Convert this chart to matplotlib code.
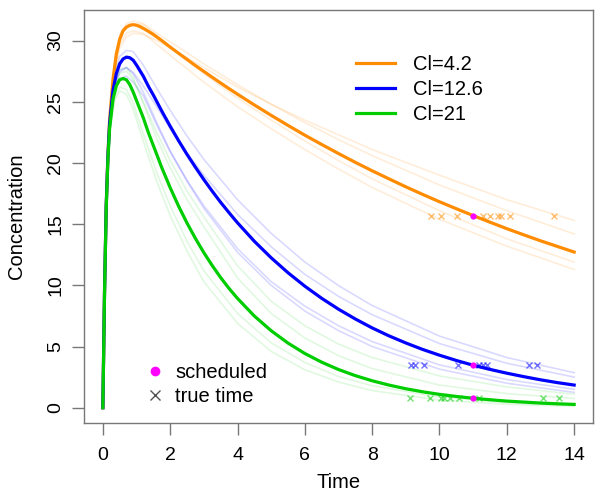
import matplotlib
matplotlib.use("Agg")
import matplotlib.pyplot as plt
from matplotlib.lines import Line2D

plt.rcParams['font.family'] = ['Liberation Sans', 'DejaVu Sans']

# time grid for the three main curves
time = [0, 0.05, 0.1, 0.15, 0.2, 0.3, 0.4, 0.5, 0.6, 0.7, 0.8, 0.9, 1.0,
        1.1, 1.2, 1.35, 1.5, 1.75, 2, 2.25, 2.5, 2.75, 3, 3.25, 3.5, 3.75, 4,
        4.5, 5, 5.5, 6, 6.5, 7, 7.5, 8, 8.5, 9, 9.5, 10, 10.5, 11, 11.5, 12, 12.5, 13, 13.5, 14]

conc_cl42 = [0, 9.5, 16.5, 20.6, 23.5, 26.8, 28.9, 30.1, 30.8, 31.1, 31.25, 31.3, 31.25,
             31.15, 31.0, 30.76, 30.5, 30.0, 29.47, 28.96, 28.46, 27.96, 27.48, 27.0, 26.53, 26.07, 25.62,
             24.74, 23.89, 23.07, 22.27, 21.51, 20.77, 20.05, 19.36, 18.7, 18.05, 17.43, 16.83, 16.26,
             15.7, 15.16, 14.63, 14.13, 13.64, 13.18, 12.72]
conc_cl126 = [0, 9.5, 16.5, 20.5, 23.2, 25.9, 27.3, 28.1, 28.5, 28.65, 28.6, 28.4, 28.0,
              27.55, 27.1, 26.28, 25.55, 24.24, 23.0, 21.82, 20.7, 19.65, 18.64, 17.69, 16.78, 15.93, 15.11,
              13.6, 12.25, 11.03, 9.93, 8.94, 8.05, 7.25, 6.52, 5.87, 5.29, 4.76, 4.29, 3.86,
              3.47, 3.13, 2.82, 2.54, 2.28, 2.05, 1.85]
conc_cl21 = [0, 9.4, 16.3, 20.3, 22.8, 25.2, 26.3, 26.8, 26.9, 26.8, 26.4, 25.8, 25.1,
             24.4, 23.7, 22.5, 21.42, 19.62, 17.98, 16.47, 15.09, 13.83, 12.67, 11.61, 10.63, 9.74, 8.93,
             7.49, 6.29, 5.28, 4.43, 3.72, 3.12, 2.62, 2.2, 1.85, 1.55, 1.3, 1.09, 0.92,
             0.77, 0.65, 0.54, 0.46, 0.38, 0.32, 0.27]

# coarser time grid for the faint individual curves
time_ind = [0, 0.1, 0.2, 0.35, 0.5, 0.7, 0.9, 1.2, 1.6, 2, 2.5, 3, 4, 5, 6, 7, 8, 10, 12, 14]

ind_cl42 = [
    [0, 16.0, 23.0, 27.3, 29.4, 30.3, 30.6, 30.5, 30.0, 29.4, 28.6, 27.8, 26.2, 24.8, 23.5, 22.3, 21.1, 19.0, 17.0, 15.3],
    [0, 16.6, 23.7, 28.2, 30.5, 31.4, 31.6, 31.4, 30.6, 29.9, 29.0, 28.1, 26.4, 24.8, 23.3, 21.9, 20.6, 18.2, 16.1, 14.2],
    [0, 16.4, 23.5, 28.0, 30.3, 31.2, 31.4, 31.3, 30.4, 29.5, 28.4, 27.3, 25.3, 23.5, 21.8, 20.2, 18.7, 16.1, 13.8, 11.9],
    [0, 16.2, 23.2, 27.5, 29.7, 30.6, 30.8, 30.6, 29.7, 28.8, 27.7, 26.6, 24.6, 22.8, 21.1, 19.5, 18.0, 15.4, 13.2, 11.3],
]
ind_cl126 = [
    [0, 16.6, 23.4, 27.2, 28.7, 29.2, 29.1, 28.0, 26.1, 24.3, 22.2, 20.3, 17.0, 14.25, 11.9, 9.98, 8.35, 5.85, 4.1, 2.86],
    [0, 16.3, 22.8, 26.0, 27.4, 27.8, 27.4, 26.3, 24.6, 22.8, 20.8, 19.0, 15.8, 13.15, 10.9, 9.1, 7.6, 5.24, 3.63, 2.5],
    [0, 16.2, 22.7, 25.8, 26.9, 27.1, 26.6, 25.5, 23.1, 20.9, 18.6, 16.5, 13.0, 10.3, 8.3, 6.7, 5.4, 3.5, 2.3, 1.5],
    [0, 16.5, 23.0, 26.4, 27.6, 27.8, 27.3, 25.8, 23.3, 21.0, 18.5, 16.3, 12.7, 10.0, 7.9, 6.3, 5.0, 3.15, 2.0, 1.25],
]
ind_cl21 = [
    [0, 16.4, 23.0, 26.2, 27.3, 27.5, 26.8, 25.0, 22.5, 20.2, 17.7, 15.6, 11.6, 8.7, 6.7, 5.2, 4.1, 2.6, 1.7, 1.1],
    [0, 16.5, 23.2, 26.5, 27.6, 27.8, 27.0, 24.9, 22.0, 19.6, 17.0, 14.8, 10.6, 7.7, 5.7, 4.25, 3.2, 1.85, 1.15, 0.75],
    [0, 16.2, 22.6, 25.4, 26.2, 26.0, 24.9, 22.4, 19.2, 16.5, 13.6, 11.2, 7.7, 5.3, 3.7, 2.55, 1.8, 0.86, 0.42, 0.2],
    [0, 16.1, 22.4, 25.1, 25.9, 25.6, 24.4, 21.8, 18.5, 15.7, 12.8, 10.3, 6.9, 4.6, 3.1, 2.1, 1.4, 0.62, 0.28, 0.12],
]

# scheduled sampling time and the actual ("true") sampling times
sched_time = 11
sched_conc = [15.7, 3.5, 0.77]
true_cl42 = [9.74, 10.04, 10.53, 11.29, 11.50, 11.74, 11.84, 12.09, 13.39]
true_cl126 = [9.16, 9.26, 9.55, 10.56, 11.18, 11.30, 11.41, 12.66, 12.89]
true_cl21 = [9.11, 9.72, 10.04, 10.14, 10.32, 10.59, 11.16, 13.07, 13.56]

labels = ['Cl=4.2', 'Cl=12.6', 'Cl=21']
colors = ['#FF8C00', '#0000FF', '#00CD00']

fig = plt.figure(figsize=(6.02, 5), dpi=100)
ax = fig.add_axes([84 / 602, 77 / 500, 509 / 602, 413 / 500])

mains = [conc_cl42, conc_cl126, conc_cl21]
inds = [ind_cl42, ind_cl126, ind_cl21]
trues = [true_cl42, true_cl126, true_cl21]
thin_alpha = [0.15, 0.15, 0.12]

# faint individual curves first, then the typical curve on top
for k in range(3):
    for curve in inds[k]:
        ax.plot(time_ind, curve, color=colors[k], lw=1.2, alpha=thin_alpha[k], zorder=1)
for k in range(3):
    ax.plot(time, mains[k], color=colors[k], lw=2.3, zorder=3)
    ax.plot(trues[k], [sched_conc[k]] * len(trues[k]), 'x', color=colors[k],
            alpha=0.55, ms=4, mew=1, zorder=4)
    ax.plot(sched_time, sched_conc[k], 'o', color='magenta', ms=4.5, mec='none', zorder=5)

ax.set_xlim(-0.56, 14.56)
ax.set_ylim(-1.25, 32.5)
ax.set_xticks(range(0, 15, 2))
ax.set_yticks(range(0, 31, 5))

# R-like axes
for s in ax.spines.values():
    s.set_color('#777777')
    s.set_linewidth(1)
ax.tick_params(axis='both', length=8.4, width=1, color='#777777', labelsize=14, labelcolor='black')
ax.tick_params(axis='x', pad=8.9)
ax.tick_params(axis='y', pad=6)
for lab in ax.get_yticklabels():
    lab.set_rotation(90)
    lab.set_va('center')

ax.set_xlabel('Time', fontsize=14.5)
ax.xaxis.set_label_coords(0.5, (423 - 483) / 413)
ax.xaxis.label.set_va('center')
ax.set_ylabel('Concentration', fontsize=14.5)
ax.yaxis.set_label_coords((17 - 84) / 509, 0.5)
ax.yaxis.label.set_va('center')

# legend for the clearance groups
leg_lines = [Line2D([0], [0], color=c, lw=2.3) for c in colors]
leg1 = ax.legend(leg_lines, labels, loc='upper left', bbox_to_anchor=(356 / 602, 1 - 55.5 / 500),
                 bbox_transform=fig.transFigure, frameon=False, fontsize=14.5, borderpad=0,
                 borderaxespad=0, handlelength=1.94, handletextpad=0.88, labelspacing=0.28)
ax.add_artist(leg1)

# legend for sampling times
leg_pts = [Line2D([0], [0], marker='o', color='magenta', ls='none', ms=7, mec='none'),
           Line2D([0], [0], marker='x', color='#555555', ls='none', ms=7, mew=1)]
ax.legend(leg_pts, ['scheduled', 'true time'], loc='upper left', bbox_to_anchor=(145 / 602, 1 - 363 / 500),
          bbox_transform=fig.transFigure, frameon=False, fontsize=14.5, borderpad=0,
          borderaxespad=0, handlelength=1.0, handletextpad=0.5, labelspacing=0.25)

fig.savefig('out.png', dpi=100)
